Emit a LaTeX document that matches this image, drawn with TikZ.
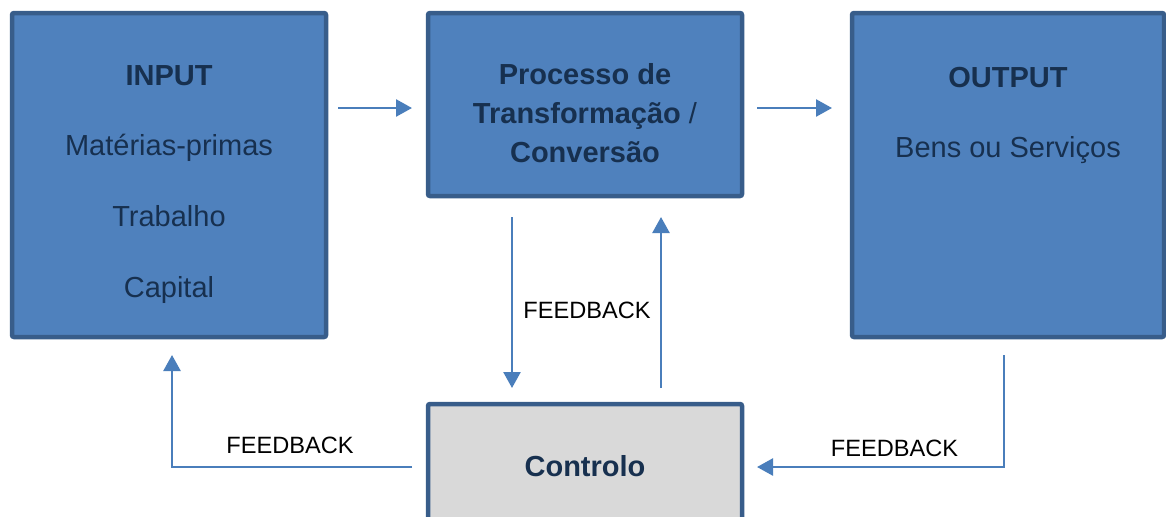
\documentclass[tikz,border=0pt]{standalone}
\usepackage{fontspec}
\setmainfont{Liberation Sans}
\usetikzlibrary{arrows.meta}
\definecolor{boxfill}{HTML}{4F81BD}
\definecolor{boxline}{HTML}{385D8A}
\definecolor{boxtext}{HTML}{17304F}
\definecolor{arrowc}{HTML}{4A7EBB}
\definecolor{ctrlfill}{HTML}{D9D9D9}
\begin{document}
\begin{tikzpicture}[x=0.5pt,y=-0.5pt,
  bluebox/.style={draw=boxline, line width=2.25pt, fill=boxfill, rounded corners=1pt, inner sep=0pt},
  greybox/.style={bluebox, fill=ctrlfill},
  boxlabel/.style={text=boxtext, font=\fontsize{14.5}{35.3}\selectfont, align=center, inner sep=0pt, anchor=north},
  boldlabel/.style={boxlabel, font=\fontsize{14.5}{19.5}\selectfont\bfseries},
  fb/.style={font=\fontsize{11.8}{14}\selectfont, text=black, inner sep=0pt},
  arr/.style={draw=arrowc, line width=1.25pt, -{Triangle[length=8pt,width=8.5pt]}},
]
\useasboundingbox (0,0) rectangle (1166,516);
\clip (0,0) rectangle (1166,516);
% boxes
\node[bluebox, minimum width=157pt, minimum height=162pt] (input) at (169,175) {};
\node[bluebox, minimum width=157pt, minimum height=91.5pt] (process) at (585,104.5) {};
\node[bluebox, minimum width=156pt, minimum height=162pt] (output) at (1008,175) {};
\node[greybox, minimum width=157pt, minimum height=98pt] (controlo) at (585,502) {};
% box texts
\node[boxlabel] (inputtxt) at (169,65) {\textbf{INPUT}\\Matérias-primas\\Trabalho\\Capital};
\node[boldlabel] (processtxt) at (585,63.5) {Processo de\\Transformação {\mdseries /}\\Conversão};
\node[boxlabel] (outputtxt) at (1008,66.5) {\textbf{OUTPUT}\\Bens ou Serviços};
\node[boldlabel] (controlotxt) at (585,455) {Controlo};
% arrow end points
\coordinate (a1s) at (338,108);
\coordinate (a1e) at (412,108);
\coordinate (a2s) at (757,108);
\coordinate (a2e) at (832,108);
\coordinate (dns) at (512,217);
\coordinate (dne) at (512,388);
\coordinate (ups) at (661,388);
\coordinate (upe) at (661,217);
\coordinate (lfs) at (412,467);
\coordinate (lfc) at (172,467);
\coordinate (lfe) at (172,355);
\coordinate (rfs) at (1004,355);
\coordinate (rfc) at (1004,467);
\coordinate (rfe) at (757,467);
% connectors
\draw[arr] (a1s) -- (a1e);
\draw[arr] (a2s) -- (a2e);
\draw[arr] (dns) -- (dne);
\draw[arr] (ups) -- (upe);
\draw[arr] (lfs) -- (lfc) -- (lfe);
\draw[arr] (rfs) -- (rfc) -- (rfe);
% labels
\node[fb] (fbmid) at (587,310.5) {FEEDBACK};
\node[fb] (fbleft) at (290,445.5) {FEEDBACK};
\node[fb] (fbright) at (894.5,448.5) {FEEDBACK};
\end{tikzpicture}
\end{document}
